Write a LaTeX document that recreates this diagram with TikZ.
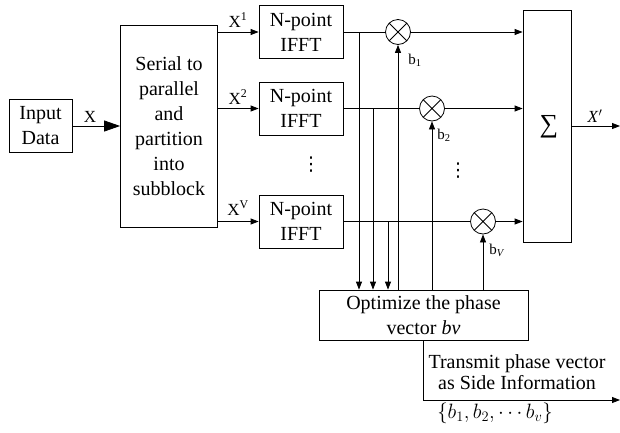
\documentclass[tikz,border=0pt]{standalone}
\usepackage{fontspec}
\setmainfont{Liberation Serif}
\newfontfamily\dvfont{DejaVu Sans}
\usetikzlibrary{arrows.meta}
\begin{document}
\begin{tikzpicture}[x=1pt,y=-1pt,
  line/.style={line width=0.8pt},
  box/.style={draw, line width=0.8pt, inner sep=0pt, align=center, font=\fontsize{20}{25}\selectfont},
  mult/.style={draw, circle, line width=0.8pt, minimum size=25pt, inner sep=0pt,
    path picture={\draw[line width=0.8pt] (path picture bounding box.north west)--(path picture bounding box.south east)
      (path picture bounding box.north east)--(path picture bounding box.south west);}},
  arr/.style={line, -{Triangle[length=8pt,width=6pt]}},
  bigarr/.style={line, -{Triangle[length=16pt,width=11pt]}},
  lbl/.style={font=\fontsize{17}{18}\selectfont, inner sep=0pt},
  blbl/.style={font=\fontsize{15}{16}\selectfont, inner sep=0pt},
  dotsn/.style={font=\dvfont\fontsize{19}{20}\selectfont, inner sep=0pt},
  txt/.style={font=\fontsize{20}{21}\selectfont, inner sep=0pt, align=center}]
\path[use as bounding box] (0,0) rectangle (620,432);
% blocks
\node[box, minimum width=63pt, minimum height=53pt] (in) at (40.5,126) {Input\\Data};
\node[box, minimum width=97pt, minimum height=202pt] (sp) at (169,126) {Serial to\\parallel\\and\\partition\\into\\subblock};
\node[box, minimum width=84pt, minimum height=53pt] (f1) at (301,32) {N-point\\IFFT};
\node[box, minimum width=84pt, minimum height=53pt] (f2) at (301,108.5) {N-point\\IFFT};
\node[box, minimum width=84pt, minimum height=53pt] (f3) at (301,221.5) {N-point\\IFFT};
\node[mult] (m1) at (398,32) {};
\node[mult] (m2) at (432,108.5) {};
\node[mult] (m3) at (483,221.5) {};
\node[box, minimum width=48pt, minimum height=232pt] (sum) at (547,126) {};
\node[font=\fontsize{26}{26}\selectfont, inner sep=0pt] (sg) at (549,127) {∑};
\node[box, minimum width=209pt, minimum height=50pt] (opt) at (423.5,315) {Optimize the phase\\vector \textit{bv}};
% helper coordinates
\coordinate (c1) at (359,0);
\coordinate (c2) at (373,0);
\coordinate (c3) at (388,0);
\coordinate (out) at (620,126);
\coordinate (side) at (620,400);
% connectors
\draw[bigarr] (in) -- (sp);
\draw[arr] (sp.east |- f1.west) -- (f1.west);
\draw[arr] (sp.east |- f2.west) -- (f2.west);
\draw[arr] (sp.east |- f3.west) -- (f3.west);
\draw[line] (f1.east) -- (m1.west);
\draw[line] (f2.east) -- (m2.west);
\draw[line] (f3.east) -- (m3.west);
\draw[arr] (m1.east) -- (sum.west |- m1.east);
\draw[arr] (m2.east) -- (sum.west |- m2.east);
\draw[arr] (m3.east) -- (sum.west |- m3.east);
\draw[arr] (f1.east -| c1) -- (opt.north -| c1);
\draw[arr] (f2.east -| c2) -- (opt.north -| c2);
\draw[arr] (f3.east -| c3) -- (opt.north -| c3);
\draw[arr] (opt.north -| m1.south) -- (m1.south);
\draw[arr] (opt.north -| m2.south) -- (m2.south);
\draw[arr] (opt.north -| m3.south) -- (m3.south);
\draw[arr] (sum.east |- out) -- (out);
\draw[arr] (opt.south) |- (side);
% labels
\node[lbl] (lx) at (90,117) {X};
\node[lbl] (lx1) at (238,20) {X\textsuperscript{1}};
\node[lbl] (lx2) at (238,97) {X\textsuperscript{2}};
\node[lbl] (lxv) at (238,208) {X\textsuperscript{V}};
\node[blbl] (lb1) at (415,60) {b\textsubscript{1}};
\node[blbl] (lb2) at (444,135) {b\textsubscript{2}};
\node[blbl] (lbv) at (497,250) {b\textsubscript{\textit{V}}};
\node[lbl] (lxo) at (595,116) {\textit{X}$'$};
\node[dotsn] (d1) at (311,165) {⋮};
\node[dotsn] (d2) at (458,171) {⋮};
\node[txt] (tr) at (517,372) {Transmit phase vector\\as Side Information};
\node[txt] (bs) at (495,413) {$\{b_1,b_2,\cdots b_v\}$};
\end{tikzpicture}
\end{document}
